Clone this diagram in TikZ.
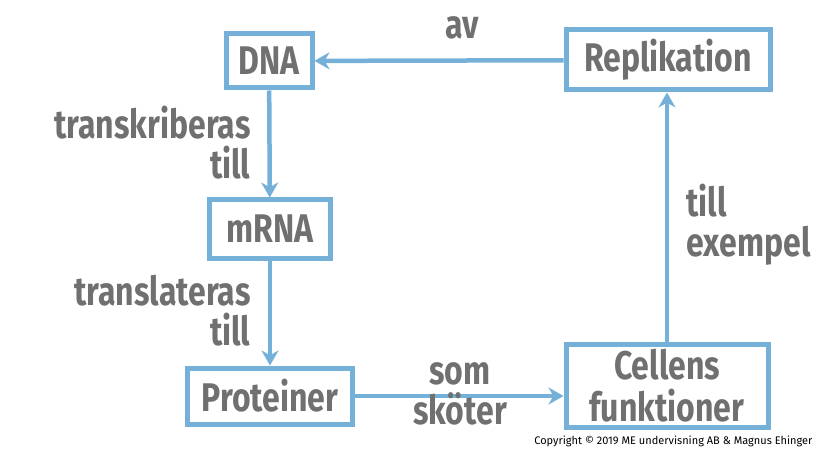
\documentclass[tikz,border=0pt]{standalone}
\usepackage{fontspec}
\setmainfont{Fira Sans}
\usetikzlibrary{arrows.meta}
\definecolor{bl}{HTML}{74B0D8}
\definecolor{tx}{HTML}{707070}
\begin{document}
\begin{tikzpicture}[x=1pt,y=-1pt,
 box/.style={draw=bl,line width=5pt,text=tx,font=\fontsize{40}{42}\selectfont\bfseries\addfontfeature{FakeStretch=0.80},align=center,inner sep=0pt},
 lab/.style={text=tx,font=\fontsize{40}{40}\selectfont\bfseries\addfontfeature{FakeStretch=0.80}},
 arr/.style={draw=bl,line width=4.5pt,-{Stealth[length=15pt,width=17pt]}}]
\useasboundingbox (0,0) rectangle (821,454);
\node[box,minimum width=86,minimum height=54] (dna) at (269,61) {DNA};
\node[box,minimum width=204,minimum height=60] (rep) at (668,60) {Replikation};
\node[box,minimum width=121,minimum height=58] (mrna) at (270,229) {mRNA};
\node[box,minimum width=165,minimum height=56] (pro) at (270,396) {Proteiner};
\node[box,minimum width=202,minimum height=83] (cel) at (667,386) {Cellens\\funktioner};
\draw[arr] (dna) -- (mrna);
\draw[arr] (mrna) -- (pro);
\draw[arr] (pro.east) -- (pro.east -| cel.west);
\draw[arr] (cel.north) -- (rep.south -| cel.north);
\draw[arr] (rep) -- (dna);
\node[lab] (l1) at (462,28) {av};
\node[lab,align=right,anchor=east] (l2) at (254,143) {transkriberas\\till};
\node[lab,align=right,anchor=east] (l3) at (254,311) {translateras\\till};
\node[lab,align=center] (l4) at (460,394) {som\\sköter};
\node[lab,align=left,anchor=west] (l5) at (683,225) {till\\exempel};
\node[font=\fontsize{11}{12}\selectfont,anchor=east] (c) at (816,441) {Copyright © 2019 ME undervisning AB \& Magnus Ehinger};
\end{tikzpicture}
\end{document}
